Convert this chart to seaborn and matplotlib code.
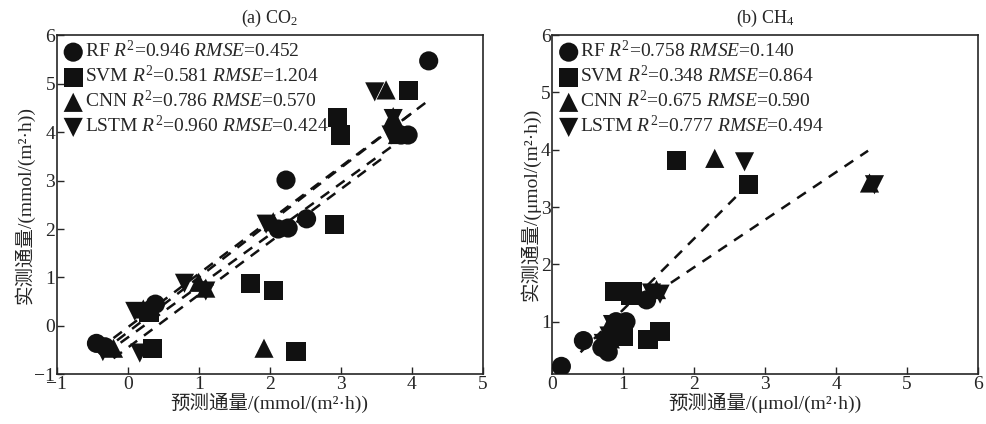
import numpy as np
import pandas as pd
import matplotlib
matplotlib.use("Agg")
import matplotlib.pyplot as plt
import seaborn as sns

# ===================== DADOS =====================
MODELS = ["RF", "SVM", "CNN", "LSTM"]
MARKERS = {"RF": "o", "SVM": "s", "CNN": "^", "LSTM": "v"}

# (a) CO2 : predito (x) vs medido (y)
co2_rf_x = [-0.44, -0.32, 0.30, 0.39, 2.12, 2.26, 2.23, 2.52, 3.85, 3.95, 4.24]
co2_rf_y = [-0.36, -0.43, 0.32, 0.45, 2.00, 2.02, 3.01, 2.21, 3.94, 3.94, 5.47]
co2_svm_x = [0.35, 0.30, 1.73, 2.05, 2.37, 2.91, 2.96, 3.00, 3.95]
co2_svm_y = [-0.46, 0.28, 0.88, 0.73, -0.52, 2.10, 4.30, 3.94, 4.85]
co2_cnn_x = [-0.20, 0.22, 1.00, 1.10, 1.92, 2.05, 3.64, 3.74, 3.80]
co2_cnn_y = [-0.46, 0.35, 0.90, 0.78, -0.46, 2.15, 4.87, 4.32, 3.95]
co2_lstm_x = [-0.35, 0.17, 0.10, 0.80, 1.10, 1.95, 3.48, 3.74, 3.71]
co2_lstm_y = [-0.53, -0.56, 0.30, 0.88, 0.72, 2.10, 4.83, 4.28, 3.94]

# (b) CH4
ch4_rf_x = [0.13, 0.44, 0.79, 0.70, 0.90, 1.04, 1.33, 0.85, 1.00]
ch4_rf_y = [0.22, 0.67, 0.47, 0.55, 1.00, 1.00, 1.38, 0.80, 0.90]
ch4_svm_x = [1.75, 2.76, 0.88, 1.13, 1.10, 1.35, 1.52, 0.95, 1.00]
ch4_svm_y = [3.82, 3.40, 1.53, 1.53, 1.45, 0.69, 0.83, 0.85, 0.75]
ch4_cnn_x = [2.29, 4.47, 1.47, 0.77, 0.82, 0.75, 1.00, 0.90]
ch4_cnn_y = [3.85, 3.42, 1.56, 0.86, 0.70, 0.60, 0.95, 0.80]
ch4_lstm_x = [2.71, 4.54, 1.40, 1.52, 0.80, 0.72, 0.85, 1.00]
ch4_lstm_y = [3.79, 3.39, 1.50, 1.48, 0.75, 0.62, 0.95, 0.80]

# métricas
co2_r2 = [0.946, 0.581, 0.786, 0.960]
co2_rmse = [0.452, 1.204, 0.570, 0.424]
ch4_r2 = [0.758, 0.348, 0.675, 0.777]
ch4_rmse = [0.140, 0.864, 0.590, 0.494]

# retas ajustadas: inclinação, intercepto, x inicial, x final
co2_fit_slope = [1.105, 1.13, 1.06, 1.09]
co2_fit_icpt = [-0.03, -0.13, -0.24, -0.45]
co2_fit_x0 = [-0.20, -0.15, -0.10, -0.20]
co2_fit_x1 = [4.25, 4.00, 3.80, 3.64]

ch4_fit_slope = [1.24, 0.83]
ch4_fit_icpt = [-0.03, 0.29]
ch4_fit_x0 = [0.40, 1.45]
ch4_fit_x1 = [2.65, 4.45]


def make_df(xs, ys):
    frames = []
    for m, x, y in zip(MODELS, xs, ys):
        frames.append(pd.DataFrame({"pred": x, "obs": y, "model": m}))
    return pd.concat(frames, ignore_index=True)


co2_df = make_df([co2_rf_x, co2_svm_x, co2_cnn_x, co2_lstm_x],
                 [co2_rf_y, co2_svm_y, co2_cnn_y, co2_lstm_y])
ch4_df = make_df([ch4_rf_x, ch4_svm_x, ch4_cnn_x, ch4_lstm_x],
                 [ch4_rf_y, ch4_svm_y, ch4_cnn_y, ch4_lstm_y])

# ===================== ESTILO =====================
sns.set_style("ticks")
plt.rcParams["font.family"] = ["Liberation Serif", "Noto Sans CJK SC"]
plt.rcParams["mathtext.fontset"] = "custom"
plt.rcParams["mathtext.rm"] = "Liberation Serif"
plt.rcParams["mathtext.it"] = "Liberation Serif:italic"
plt.rcParams["axes.linewidth"] = 1.2
plt.rcParams["xtick.direction"] = "in"
plt.rcParams["ytick.direction"] = "in"

fig = plt.figure(figsize=(9.86, 4.24), dpi=100)
ax1 = fig.add_axes([0.0575, 0.117, 0.432, 0.800])
ax2 = fig.add_axes([0.560, 0.117, 0.432, 0.800])


def draw(ax, df, r2, rmse, slope, icpt, x0, x1, title, unit, xlim, ylim):
    for i, m in enumerate(MODELS):
        sub = df[df["model"] == m]
        lab = f"{m} $R^2$=${r2[i]:.3f}$ $RMSE$=${rmse[i]:.3f}$"
        sns.scatterplot(data=sub, x="pred", y="obs", marker=MARKERS[m],
                        color="#111111", s=190, edgecolor="none",
                        linewidth=0, ax=ax, label=lab, zorder=3)
    for a, b, s, e in zip(slope, icpt, x0, x1):
        xx = np.array([s, e])
        ax.plot(xx, a * xx + b, color="#111111", lw=1.8,
                dashes=(4.2, 3.4), zorder=2)
    ax.set_xlim(*xlim)
    ax.set_ylim(*ylim)
    ax.set_xticks(range(int(xlim[0]), int(xlim[1]) + 1))
    ax.set_yticks(range(int(np.ceil(ylim[0])), int(ylim[1]) + 1))
    ax.tick_params(labelsize=14, length=5, width=1, pad=1)
    for sp in ax.spines.values():
        sp.set_visible(True)
    ax.set_title(title, fontsize=13, pad=9)
    ax.set_xlabel(f"预测通量/({unit}/(m²·h))", fontsize=14, labelpad=0)
    ax.set_ylabel(f"实测通量/({unit}/(m²·h))", fontsize=14, labelpad=0)
    ax.legend(loc="upper left", frameon=False, fontsize=14,
              handletextpad=0.0, handlelength=1.2, labelspacing=0.2,
              borderaxespad=0.1, borderpad=0.15, markerscale=1.0)


draw(ax1, co2_df, co2_r2, co2_rmse, co2_fit_slope, co2_fit_icpt,
     co2_fit_x0, co2_fit_x1, "(a) CO$_2$", "mmol", (-1, 5), (-1, 6))
draw(ax2, ch4_df, ch4_r2, ch4_rmse, ch4_fit_slope, ch4_fit_icpt,
     ch4_fit_x0, ch4_fit_x1, "(b) CH$_4$", "μmol", (0, 6), (0.08, 6))

fig.savefig("out.png", dpi=100)
